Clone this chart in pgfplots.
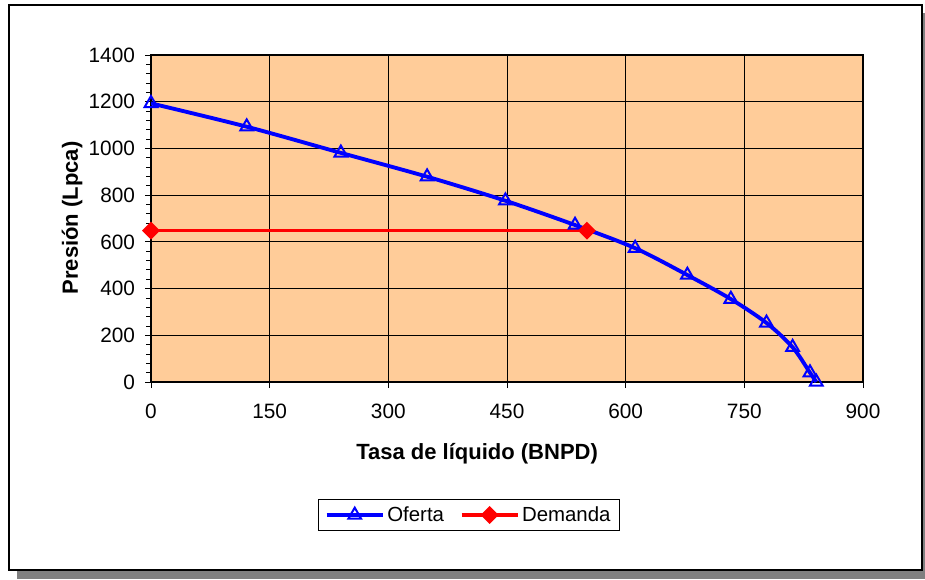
\documentclass[border=0pt]{standalone}
\usepackage{fontspec}
\setmainfont{Liberation Sans}
\usepackage{pgfplots}
\pgfplotsset{compat=1.18}

\definecolor{plotbg}{RGB}{255,204,153}
\definecolor{shadowgray}{RGB}{128,128,128}

\begin{document}
\begin{tikzpicture}[x=0.75pt,y=-0.75pt]
% page frame with drop shadow
\useasboundingbox (0,0) rectangle (925,579);
\fill[shadowgray] (17,13) rectangle (925,579);
\draw[fill=white, line width=0.9pt] (9,5) rectangle (922,570);

\begin{axis}[
  at={(113.25pt,-286.5pt)}, anchor=south west,
  scale only axis, width=534pt, height=245.25pt,
  xmin=0, xmax=900, ymin=0, ymax=1400,
  xtick={0,150,...,900}, ytick={0,200,...,1400},
  minor y tick num=4,
  xtick pos=left, ytick pos=left,
  tick align=outside,
  major tick length=4.5pt, minor tick length=3.5pt,
  tick style={black, line width=0.6pt},
  grid=major, major grid style={black, line width=0.6pt},
  axis line style={black, line width=1pt},
  axis background/.style={fill=plotbg},
  /pgf/number format/assume math mode=true,
  /pgf/number format/1000 sep={},
  tick label style={font=\fontsize{15.6}{18}\selectfont},
  xticklabel shift=8.5pt,
  yticklabel shift=4pt,
  xlabel={Tasa de líquido (BNPD)},
  ylabel={Presión (Lpca)},
  every axis x label/.style={at={(axis description cs:0.458,-0.220)}, anchor=center,
    font=\fontsize{16.5}{19}\selectfont\bfseries},
  every axis y label/.style={at={(axis description cs:-0.111,0.5015)}, anchor=center, rotate=90,
    font=\fontsize{16.5}{19}\selectfont\bfseries},
  legend columns=2,
  legend style={at={(axis description cs:0.4466,-0.4067)}, anchor=center,
    draw=black, line width=0.6pt, fill=white,
    font=\fontsize{15.3}{18}\selectfont,
    inner xsep=4.5pt, inner ysep=3.5pt,
    /tikz/every even column/.append style={column sep=10pt}},
  legend image code/.code={%
    \draw[mark repeat=2, mark phase=2] plot coordinates {(0pt,0pt)(21pt,0pt)(42pt,0pt)};},
]
\addplot[blue, line width=2.9pt, smooth,
  mark=triangle, mark size=5.5pt, mark options={line width=1.5pt, solid, fill=none}]
  coordinates {
  (0,1193) (121,1093) (240,981) (349,879) (448,776) (536,672)
  (612,573) (678,458) (733,355) (778,253) (811,149) (833,40) (841,0)
  };
\addlegendentry{Oferta}
\addplot[red, line width=2.5pt,
  mark=square*, mark size=3.5pt, mark options={rotate=45, solid}]
  coordinates {(0,648) (551,648)};
\addlegendentry{Demanda}
\end{axis}
\end{tikzpicture}
\end{document}
